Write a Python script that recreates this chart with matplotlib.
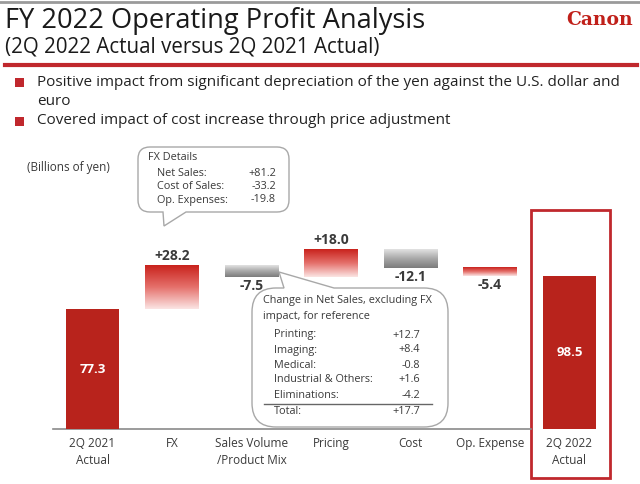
import numpy as np
import matplotlib
matplotlib.use("Agg")
import matplotlib.pyplot as plt
from matplotlib.path import Path
from matplotlib.patches import PathPatch, Rectangle
from matplotlib.colors import LinearSegmentedColormap

plt.rcParams['font.family'] = ['Open Sans', 'DejaVu Sans']

# data
categories = ["2Q 2021\nActual", "FX", "Sales Volume\n/Product Mix", "Pricing",
              "Cost", "Op. Expense", "2Q 2022\nActual"]
start_value = 77.3
changes = [28.2, -7.5, 18.0, -12.1, -5.4]
change_labels = ["+28.2", "-7.5", "+18.0", "-12.1", "-5.4"]
change_colors = ["red", "gray", "red", "gray", "red"]
end_value = 98.5

fx_rows = ["Net Sales:", "Cost of Sales:", "Op. Expenses:"]
fx_vals = ["+81.2", "-33.2", "-19.8"]
seg_rows = ["Printing:", "Imaging:", "Medical:", "Industrial & Others:", "Eliminations:"]
seg_vals = ["+12.7", "+8.4", "-0.8", "+1.6", "-4.2"]
total_row = ("Total:", "+17.7")

bullets = [["Positive impact from significant depreciation of the yen against the U.S. dollar and", "euro"],
           ["Covered impact of cost increase through price adjustment"]]

RED = "#b8231c"
TXT = "#3a3a3a"

fig = plt.figure(figsize=(6.4, 4.84), dpi=100)

# chart axes: baseline at 429px, 1.552 px per billion, bar spacing 79.5px
ax = fig.add_axes([0, 55 / 484, 1, 289 / 484])
ax.axis("off")
w = 0.667

cmaps = {
    "red": LinearSegmentedColormap.from_list("r", ["#fbe4e3", "#e5706b", "#c9231d"]),
    "gray": LinearSegmentedColormap.from_list("g", ["#7c7c7c", "#a8a8a8", "#e2e2e2"]),
}
grad = np.linspace(0, 1, 100).reshape(-1, 1)

ax.bar(0, start_value, w, color=RED)
ax.text(0, start_value / 2, f"{start_value:.1f}", color="white", ha="center",
        va="center", fontsize=9.5, fontweight="bold")

level = start_value
for i, (d, lab, kind) in enumerate(zip(changes, change_labels, change_colors), start=1):
    lo, hi = min(level, level + d), max(level, level + d)
    ax.imshow(grad, cmap=cmaps[kind], origin="lower", aspect="auto",
              extent=(i - w / 2, i + w / 2, lo, hi), zorder=2)
    if d > 0:
        ax.annotate(lab, (i, hi), xytext=(0, 1.5), textcoords="offset points",
                    ha="center", va="bottom", fontsize=10, fontweight="bold", color=TXT)
    else:
        ax.annotate(lab, (i, lo), xytext=(0, -1.5), textcoords="offset points",
                    ha="center", va="top", fontsize=10, fontweight="bold", color=TXT)
    level += d

n = len(categories) - 1
ax.bar(n, end_value, w, color=RED)
ax.text(n, end_value / 2, f"{end_value:.1f}", color="white", ha="center",
        va="center", fontsize=9.5, fontweight="bold")
ax.set_xlim(-92.5 / 79.5, (640 - 92.5) / 79.5)
ax.set_ylim(0, 289 / 1.552)

for i, c in enumerate(categories):
    ax.annotate(c, (i, 0), xytext=(0, -6), textcoords="offset points", ha="center",
                va="top", fontsize=8.5, color=TXT, linespacing=1.35, annotation_clip=False)

# overlay in pixel coordinates
ov = fig.add_axes([0, 0, 1, 1], zorder=-1)
ov.set_xlim(0, 640)
ov.set_ylim(484, 0)
ov.axis("off")
ov.patch.set_alpha(0)

ov.plot([0, 640], [1.5, 1.5], color="#9a9a9a", lw=2)
ov.text(5, 21, "FY 2022 Operating Profit Analysis", fontsize=19.6, color="#1a1a1a", va="center")
ov.text(5, 47, "(2Q 2022 Actual versus 2Q 2021 Actual)", fontsize=14.8, color="#1a1a1a", va="center")
ov.text(600, 20, "Canon", fontsize=13.5, color="#c0201a", fontweight="bold",
        family="DejaVu Serif", ha="center", va="center")
ov.plot([5, 637], [65, 65], color="#c0282d", lw=3)

for lines, yb in zip(bullets, [82, 121]):
    ov.add_patch(Rectangle((14.5, yb - 4.5), 9, 9, color="#c0282d", lw=0))
    for j, line in enumerate(lines):
        ov.text(37, yb + 19.5 * j, line, fontsize=11, color="#222222", va="center")

ov.text(27, 167, "(Billions of yen)", fontsize=8.5, color=TXT, va="center")


def callout(x0, y0, x1, y1, r, side, a, b, tip):
    verts, codes = [], []

    def mv(p):
        verts.append(p); codes.append(Path.MOVETO)

    def ln(p):
        verts.append(p); codes.append(Path.LINETO)

    def cv(c, p):
        verts.extend([c, p]); codes.extend([Path.CURVE3, Path.CURVE3])

    mv((x0 + r, y0))
    if side == "top":
        ln((a, y0)); ln(tip); ln((b, y0))
    ln((x1 - r, y0)); cv((x1, y0), (x1, y0 + r))
    ln((x1, y1 - r)); cv((x1, y1), (x1 - r, y1))
    if side == "bottom":
        ln((b, y1)); ln(tip); ln((a, y1))
    ln((x0 + r, y1)); cv((x0, y1), (x0, y1 - r))
    ln((x0, y0 + r)); cv((x0, y0), (x0 + r, y0))
    verts.append((x0 + r, y0)); codes.append(Path.CLOSEPOLY)
    ov.add_patch(PathPatch(Path(verts, codes), facecolor="white", edgecolor="#a8a8a8", lw=1))


callout(138, 147, 289, 212, 12, "bottom", 163, 186, (164, 226))
ov.text(148, 158, "FX Details", fontsize=7.8, color=TXT, va="center")
for k, (r_, v_) in enumerate(zip(fx_rows, fx_vals)):
    ov.text(157, 173 + 13.5 * k, r_, fontsize=7.8, color=TXT, va="center")
    ov.text(276, 173 + 13.5 * k, v_, fontsize=7.8, color=TXT, va="center", ha="right")

callout(252, 288, 448, 427, 24, "top", 284, 334, (279, 272))
ov.text(263, 301, "Change in Net Sales, excluding FX", fontsize=7.8, color=TXT, va="center")
ov.text(263, 317, "impact, for reference", fontsize=7.8, color=TXT, va="center")
for k, (r_, v_) in enumerate(zip(seg_rows, seg_vals)):
    ov.text(274, 335 + 15 * k, r_, fontsize=7.8, color=TXT, va="center")
    ov.text(420, 335 + 15 * k, v_, fontsize=7.8, color=TXT, va="center", ha="right")
ov.plot([264, 432], [403.5, 403.5], color="#666666", lw=1)
ov.text(274, 411, total_row[0], fontsize=7.8, color=TXT, va="center")
ov.text(420, 411, total_row[1], fontsize=7.8, color=TXT, va="center", ha="right")

ov.plot([53, 531], [429, 429], color="#8a8a8a", lw=1.2)
ov.add_patch(Rectangle((531, 210), 79, 268, fill=False, edgecolor="#c0282d", lw=2))

fig.savefig("out.png", dpi=100)
